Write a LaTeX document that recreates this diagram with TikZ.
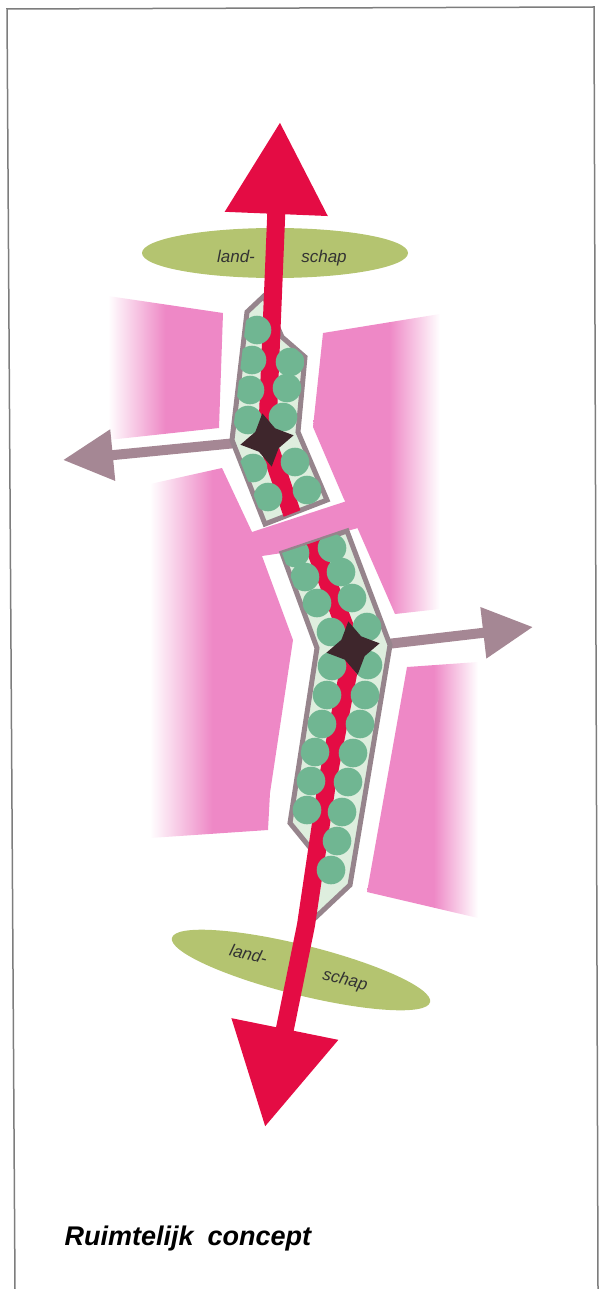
\documentclass[tikz,border=0pt]{standalone}
\usepackage{fontspec}
\setmainfont{Liberation Sans}
\usetikzlibrary{shapes.geometric, arrows.meta}

\definecolor{redc}{RGB}{228,12,68}
\definecolor{pinkc}{RGB}{238,136,198}
\definecolor{landc}{RGB}{180,196,112}
\definecolor{streetc}{RGB}{150,132,140}
\definecolor{palec}{RGB}{222,238,222}
\definecolor{treec}{RGB}{112,182,146}
\definecolor{starc}{RGB}{62,38,44}
\definecolor{sidec}{RGB}{165,135,148}
\definecolor{framec}{RGB}{125,125,125}

\pgfdeclarehorizontalshading{pinkfadeA}{100bp}{color(0bp)=(white); color(25bp)=(white); color(50bp)=(pinkc); color(100bp)=(pinkc)}
\pgfdeclarehorizontalshading{pinkfadeB}{100bp}{color(0bp)=(pinkc); color(55bp)=(pinkc); color(75bp)=(white); color(100bp)=(white)}
\pgfdeclarehorizontalshading{pinkfadeC}{100bp}{color(0bp)=(white); color(25bp)=(white); color(40bp)=(pinkc); color(100bp)=(pinkc)}
\pgfdeclarehorizontalshading{pinkfadeD}{100bp}{color(0bp)=(pinkc); color(55bp)=(pinkc); color(75bp)=(white); color(100bp)=(white)}

\begin{document}
\begin{tikzpicture}[
    x = 1pt, y = -1pt,
    redline/.style={draw=redc, line width=18, line join=round},
    sidearrow/.style={draw=sidec, line width=10, -{Triangle[width=49pt, length=50pt]}},
    street/.style={fill=palec, draw=streetc, line width=5},
    crossing/.style={star, star points=4, star point ratio=1.9, fill=starc,
        minimum size=54, inner sep=0pt, rotate=10},
    land/.style={ellipse, fill=landc, minimum width=266, minimum height=50, inner sep=0pt},
    landtext/.style={font=\fontsize{17}{20}\selectfont\itshape, text=black!80}
]
\useasboundingbox (0,0) rectangle (598,1289);

% 1. FRAME
\draw[framec, line width=1.5] (15,1289) -- (7,9) -- (594,7) -- (598,1289);

% 2. PINK BLOCKS
\shade[shading=pinkfadeA] (108,296) -- (223,313) -- (219,428) -- (108,440) -- cycle;
\shade[shading=pinkfadeC] (150,484) -- (222,468) -- (252,532) -- (350,500) -- (358,528)
    -- (347,531) -- (282,553) -- (262,556) -- (293,640) -- (270,793) -- (268,830)
    -- (150,838) -- cycle;
\shade[shading=pinkfadeB] (323,333) -- (440,314) -- (440,609) -- (395,614) -- (357,527)
    -- (343,497) -- (313,427) -- cycle;
\shade[shading=pinkfadeD] (407,667) -- (478,662) -- (478,918) -- (367,892) -- cycle;

% 3. LANDSCAPE
\node[land] (landN) at (275,253) {};
\node[landtext, anchor=base] (landN1) at (236,262) {land-};
\node[landtext, anchor=base] (landN2) at (324,262) {schap};

\node[land, rotate=-14] (landS) at (301,970) {};
\node[landtext, anchor=base, rotate=-14] (landS1) at (247,960) {land-};
\node[landtext, anchor=base, rotate=-14] (landS2) at (344,985) {schap};

% 4. SIDE ARROWS
\coordinate (c1) at (267,440);
\coordinate (c2) at (353,648);
\coordinate (tipW) at (63,460);
\coordinate (tipE) at (533,627);
\coordinate (tipN) at (280,122);
\coordinate (tipS) at (265,1127);

\draw[sidearrow] (c1) -- (tipW);
\draw[sidearrow] (c2) -- (tipE);

% 5. STREETS
\coordinate (u1) at (247,312);
\coordinate (u2) at (264,296);
\coordinate (u3) at (282,337);
\coordinate (u4) at (305,357);
\coordinate (u5) at (298,432);
\coordinate (u6) at (327,500);
\coordinate (u7) at (265,524);
\coordinate (u8) at (232,440);

\coordinate (l1) at (282,553);
\coordinate (l2) at (347,531);
\coordinate (l3) at (390,645);
\coordinate (l4) at (350,885);
\coordinate (l5) at (316,917);
\coordinate (l6) at (310,910);
\coordinate (l7) at (312,850);
\coordinate (l8) at (290,823);
\coordinate (l9) at (317,648);

\draw[street] (u1) -- (u2) -- (u3) -- (u4) -- (u5) -- (u6) -- (u7) -- (u8) -- cycle;
\draw[street] (l1) -- (l2) -- (l3) -- (l4) -- (l5) -- (l6) -- (l7) -- (l8) -- (l9) -- cycle;

% 6. MAIN AXIS
\draw[redline, -{Triangle[width=98pt, length=92pt]}] (c1) -- (tipN);

\begin{scope}
    \clip (u1) -- (u2) -- (u3) -- (u4) -- (u5) -- (u6) -- (u7) -- (u8) -- cycle;
    \draw[redline] (c1) -- (300,537);
    \foreach \x/\y in {257/330, 252/360, 250/390, 248/420, 253/468, 268/497,
                       290/362, 287/388, 283/417, 295/462, 307/490}
        \fill[treec] (\x,\y) circle (14.3);
\end{scope}

\begin{scope}
    \clip (l1) -- (l2) -- (l3) -- (l4) -- (l5) -- (l6) -- (l7) -- (l8) -- (l9) -- cycle;
    \draw[redline] (302,515) -- (c2);
\end{scope}

\draw[redline, -{Triangle[width=104pt, length=100pt]}] (c2) -- (327,783) -- (306,925) -- (tipS);

\begin{scope}
    \clip (l1) -- (l2) -- (l3) -- (l4) -- (l5) -- (l6) -- (l7) -- (l8) -- (l9) -- cycle;
    \foreach \x/\y in {295/553, 305/577, 317/603, 331/632, 332/666, 327/695, 322/724,
                       315/752, 311/781, 307/810,
                       332/548, 341/572, 352/598, 367/627, 368/665, 365/695, 360/724,
                       353/753, 348/782, 342/812, 337/841, 331/870}
        \fill[treec] (\x,\y) circle (14.3);
\end{scope}

% 7. CROSSINGS
\node[crossing] (cross1) at (c1) {};
\node[crossing] (cross2) at (c2) {};

% 8. CAPTION
\node[anchor=base west, font=\fontsize{27}{32}\selectfont\bfseries\itshape] (caption)
    at (61,1245) {Ruimtelijk\hspace{14pt}concept};
\end{tikzpicture}
\end{document}
